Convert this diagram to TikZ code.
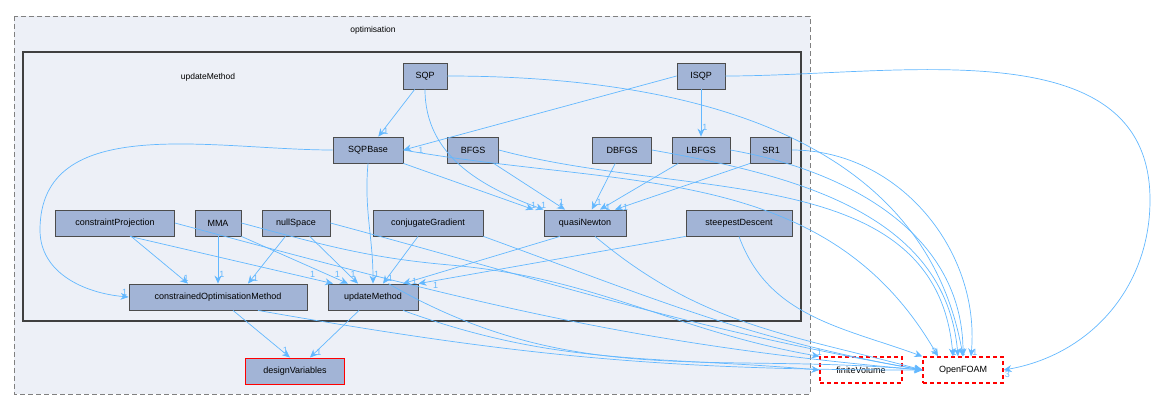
\documentclass[tikz,border=0pt]{standalone}
\usepackage{fontspec}
\setmainfont{Liberation Sans}
\usetikzlibrary{arrows.meta}
\definecolor{nfill}{HTML}{A2B4D6}
\definecolor{cfill}{HTML}{EDF0F7}
\definecolor{edge}{HTML}{63B8FF}
\definecolor{rd}{HTML}{FF0000}
\begin{document}
\begin{tikzpicture}[x=1pt,y=-1pt,
  box/.style={draw=black!70,fill=nfill,line width=0.8pt,minimum height=26pt,inner sep=0pt,font=\fontsize{9}{10}\selectfont},
  ext/.style={draw=rd,dash pattern=on 4pt off 3pt,fill=white,line width=1.2pt,minimum height=26pt,inner sep=0pt,font=\fontsize{9}{10}\selectfont},
  e/.style={draw=edge,-{Stealth[length=8pt,width=7pt]},line width=0.7pt},
  l/.style={text=edge,font=\fontsize{9}{10}\selectfont,inner sep=1pt}]
\useasboundingbox (0,0) rectangle (1172,410);
\draw[gray,fill=cfill,line width=0.9pt,dash pattern=on 5pt off 3pt] (14,16) rectangle (810,394);
\node[font=\fontsize{8.5}{10}\selectfont] at (373,30) {optimisation};
\draw[black!75,fill=cfill,line width=1.5pt] (23,52) rectangle (801,321);
\node[font=\fontsize{8.5}{10}\selectfont] at (208,77) {updateMethod};

\node[box,minimum width=44pt] (SQP) at (425,76) {SQP};
\node[box,minimum width=48pt] (ISQP) at (701,76) {ISQP};
\node[box,minimum width=70pt] (SQPBase) at (368,150) {SQPBase};
\node[box,minimum width=51pt] (BFGS) at (473,150) {BFGS};
\node[box,minimum width=59pt] (DBFGS) at (622,150) {DBFGS};
\node[box,minimum width=58pt] (LBFGS) at (701,150) {LBFGS};
\node[box,minimum width=41pt] (SR1) at (771,150) {SR1};
\node[box,minimum width=119pt] (cP) at (115,223) {constraintProjection};
\node[box,minimum width=46pt] (MMA) at (218,223) {MMA};
\node[box,minimum width=68pt] (nS) at (296,223) {nullSpace};
\node[box,minimum width=110pt] (cG) at (428,223) {conjugateGradient};
\node[box,minimum width=82pt] (qN) at (585,223) {quasiNewton};
\node[box,minimum width=106pt] (sD) at (739,223) {steepestDescent};
\node[box,minimum width=178pt] (cOM) at (218,297) {constrainedOptimisationMethod};
\node[box,minimum width=90pt] (uM) at (373,297) {updateMethod};
\node[box,draw=rd,line width=1pt,minimum width=99pt] (dV) at (295,371) {designVariables};
\node[ext,minimum width=82pt] (fV) at (861,370) {finiteVolume};
\node[ext,minimum width=80pt] (OF) at (963,370) {OpenFOAM};

% internal edges
\draw[e] (SQP) -- node[l,pos=0.9,right]{1} (SQPBase);
\draw[e] (SQP.south) to[out=-90,in=160] node[l,pos=1,above]{1} (qN.north west);
\draw[e] (ISQP.west) -- node[l,pos=0.95,below right]{1} (SQPBase.east);
\draw[e] (ISQP) -- node[l,pos=0.8,right]{1} (LBFGS);
\draw[e] (SQPBase.south) to[out=-95,in=90] node[l,pos=0.93,right]{1} (uM.north);
\draw[e] (SQPBase.west) to[out=180,in=90] (40,230) to[out=-90,in=175] node[l,pos=1,above left]{1} (cOM.west);
\draw[e] (SQPBase.south east) -- node[l,pos=1,above]{1} ([xshift=-10pt]qN.north west);
\draw[e] (BFGS) -- node[l,pos=0.95,above]{1} ([xshift=-20pt]qN.north);
\draw[e] (DBFGS) -- node[l,pos=0.85,right]{1} (qN);
\draw[e] (LBFGS) -- node[l,pos=0.95,right]{1} ([xshift=15pt]qN.north);
\draw[e] (SR1.south west) -- node[l,pos=0.95,right]{1} ([xshift=30pt]qN.north);
\draw[e] (cP) -- node[l,pos=0.9,right]{1} ([xshift=-30pt]cOM.north);
\draw[e] ([xshift=15pt]cP.south) -- node[l,pos=0.9,above]{1} ([xshift=-40pt]uM.north);
\draw[e] (MMA) -- node[l,pos=0.8,right]{1} (cOM);
\draw[e] (MMA.south east) -- node[l,pos=0.9,above]{1} ([xshift=-25pt]uM.north);
\draw[e] (nS) -- node[l,pos=0.9,right]{1} ([xshift=30pt]cOM.north);
\draw[e] (nS) -- node[l,pos=0.9,above]{1} ([xshift=-15pt]uM.north);
\draw[e] (cG) -- node[l,pos=0.9,right]{1} ([xshift=10pt]uM.north);
\draw[e] ([xshift=-25pt]qN.south) -- node[l,pos=0.95,right]{1} ([xshift=30pt]uM.north);
\draw[e] (sD.south west) -- node[l,pos=0.95,below right]{1} (uM.north east);
\draw[e] ([xshift=15pt]cOM.south) -- node[l,pos=0.85,right]{1} ([xshift=-5pt]dV.north);
\draw[e] (uM) -- node[l,pos=0.9,right]{1} ([xshift=15pt]dV.north);

% to finiteVolume
\draw[e] (MMA.east) to[out=-15,in=175] (450,265) to[out=-5,in=170] node[l,pos=1,above]{1} (fV.north west);
\draw[e] ([xshift=30pt]uM.south) to[out=-20,in=175] (fV.west);

% to OpenFOAM
\draw[e] (SQP.east) to[out=0,in=100] (OF.north);
\draw[e] (ISQP.east) to[out=0,in=90] (1150,200) to[out=-90,in=10] node[l,pos=1,below right]{3} (OF.east);
\draw[e] (SQPBase.east) to[out=-10,in=120] node[l,pos=1,above left]{3} ([xshift=-25pt]OF.north);
\draw[e] (BFGS.east) to[out=-15,in=95] ([xshift=-10pt]OF.north);
\draw[e] (DBFGS.east) to[out=-10,in=95] node[l,pos=1,above left]{1} ([xshift=-5pt]OF.north);
\draw[e] (LBFGS.east) to[out=-10,in=90] node[l,pos=1,above]{1} (OF.north);
\draw[e] (SR1.east) to[out=0,in=85] node[l,pos=1,above right]{1} ([xshift=8pt]OF.north);
\draw[e] (sD.south) to[out=-70,in=160] (OF.north west);
\draw[e] ([xshift=10pt]qN.south) to[out=-40,in=165] (OF.west);
\draw[e] (cG.south east) to[out=-20,in=170] (OF.west);
\draw[e] (nS.east) to[out=-15,in=170] (OF.west);
\draw[e] (cP.east) to[out=-15,in=175] (OF.west);
\draw[e] ([xshift=40pt]cOM.south) to[out=-10,in=180] (OF.west);
\draw[e] ([xshift=-30pt]uM.north east) to[out=-30,in=175] (OF.west);
\end{tikzpicture}
\end{document}
